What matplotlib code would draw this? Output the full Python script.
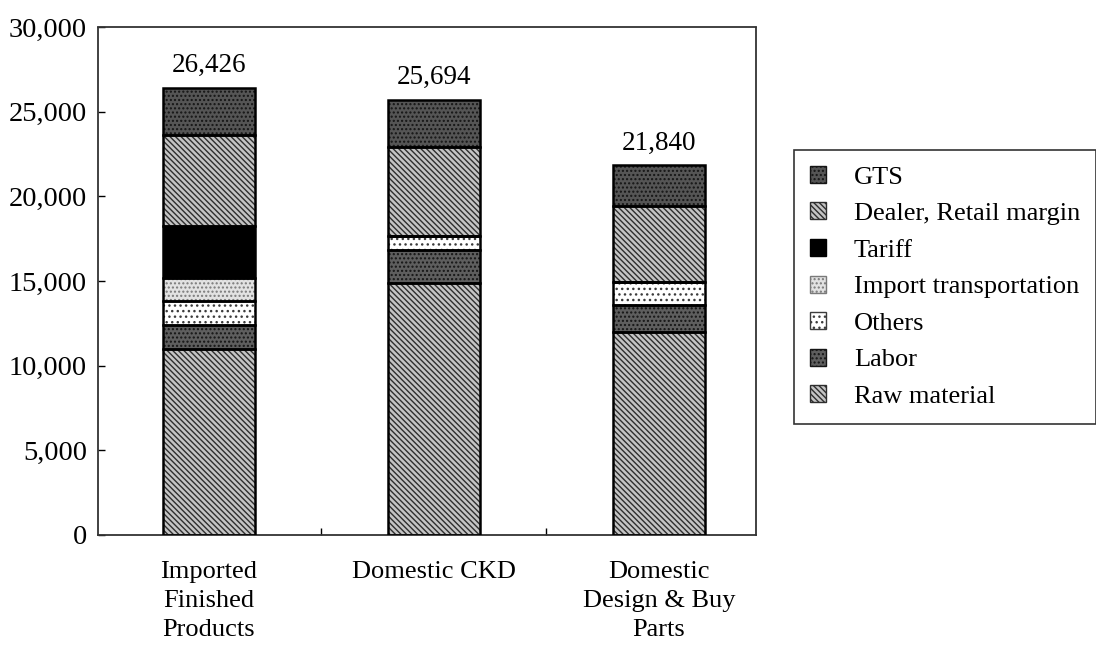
import matplotlib
matplotlib.use("Agg")
import matplotlib.pyplot as plt
from matplotlib.patches import Patch
import numpy as np

plt.rcParams['font.family'] = ['Liberation Serif', 'DejaVu Serif']
plt.rcParams['hatch.linewidth'] = 1.0

categories = ["Imported\nFinished\nProducts", "Domestic CKD", "Domestic\nDesign & Buy\nParts"]
totals = [26426, 25694, 21840]
raw_material = [11000, 14900, 12000]
labor = [1400, 1930, 1600]
others = [1400, 800, 1350]
import_transport = [1350, 0, 0]
tariff = [3100, 0, 0]
dealer_margin = [5380, 5280, 4500]
gts = [2796, 2784, 2390]

series = [
    ("Raw material", raw_material),
    ("Labor", labor),
    ("Others", others),
    ("Import transportation", import_transport),
    ("Tariff", tariff),
    ("Dealer, Retail margin", dealer_margin),
    ("GTS", gts),
]
# (facecolor, hatch, hatch colour)
styles = {
    "Raw material": ("#c4c4c4", "\\\\\\\\\\\\", "#2e2e2e"),
    "Labor": ("#5e5e5e", "....", "#151515"),
    "Others": ("#ffffff", "...", "#3c3c3c"),
    "Import transportation": ("#e2e2e2", "....", "#7a7a7a"),
    "Tariff": ("#000000", "", "#000000"),
    "Dealer, Retail margin": ("#c4c4c4", "\\\\\\\\\\\\", "#2e2e2e"),
    "GTS": ("#555555", "....", "#151515"),
}

fig = plt.figure(figsize=(10.96, 6.48), dpi=100)
ax = fig.add_axes([98 / 1096, 1 - 535 / 648, (756 - 98) / 1096, (535 - 27) / 648])

x = np.arange(len(categories))
width = 0.41
bottom = np.zeros(len(categories))
for name, vals in series:
    vals = np.array(vals, dtype=float)
    fc, hatch, hc = styles[name]
    ax.bar(x, vals, width, bottom=bottom, color=fc, hatch=hatch, edgecolor=hc,
           linewidth=0, zorder=2)
    ax.bar(x, vals, width, bottom=bottom, fill=False, edgecolor="black",
           linewidth=1.8, zorder=3)
    bottom += vals

for xi, t in zip(x, totals):
    ax.annotate(f"{t:,}", (xi, t), xytext=(0, 7), textcoords="offset points",
                ha="center", va="bottom", fontsize=19.5)

ax.set_xlim(-0.493, 2.431)
ax.set_ylim(0, 30000)
ax.set_yticks(np.arange(0, 30001, 5000))
ax.set_yticklabels([f"{v:,}" for v in range(0, 30001, 5000)], fontsize=20.5)
ax.set_xticks(x)
ax.set_xticklabels(categories, fontsize=19, linespacing=1.4, va="top")
ax.set_xticks([0.5, 1.5], minor=True)
ax.tick_params(axis="x", which="major", length=0, pad=19)
ax.tick_params(axis="x", which="minor", direction="in", length=5, width=1)
ax.tick_params(axis="y", direction="in", length=5, width=1, pad=8)
for s in ax.spines.values():
    s.set_linestyle((0, (1, 1)))
    s.set_linewidth(1.3)
    s.set_color("#333333")

handles = []
for name, vals in reversed(series):
    fc, hatch, hc = styles[name]
    handles.append(Patch(facecolor=fc, hatch=hatch, edgecolor=hc, label=name))
leg = fig.legend(handles=handles, loc="upper left",
                 bbox_to_anchor=(794 / 1096, 1 - 150 / 648),
                 fontsize=19, frameon=True, fancybox=False, edgecolor="black",
                 handlelength=0.62, handleheight=0.62, handletextpad=1.05,
                 labelspacing=0.52, borderpad=0.6, borderaxespad=0)
leg.get_frame().set_linewidth(1.2)
for p in leg.get_patches():
    p.set_linewidth(1.0)

fig.savefig("out.png", dpi=100)
